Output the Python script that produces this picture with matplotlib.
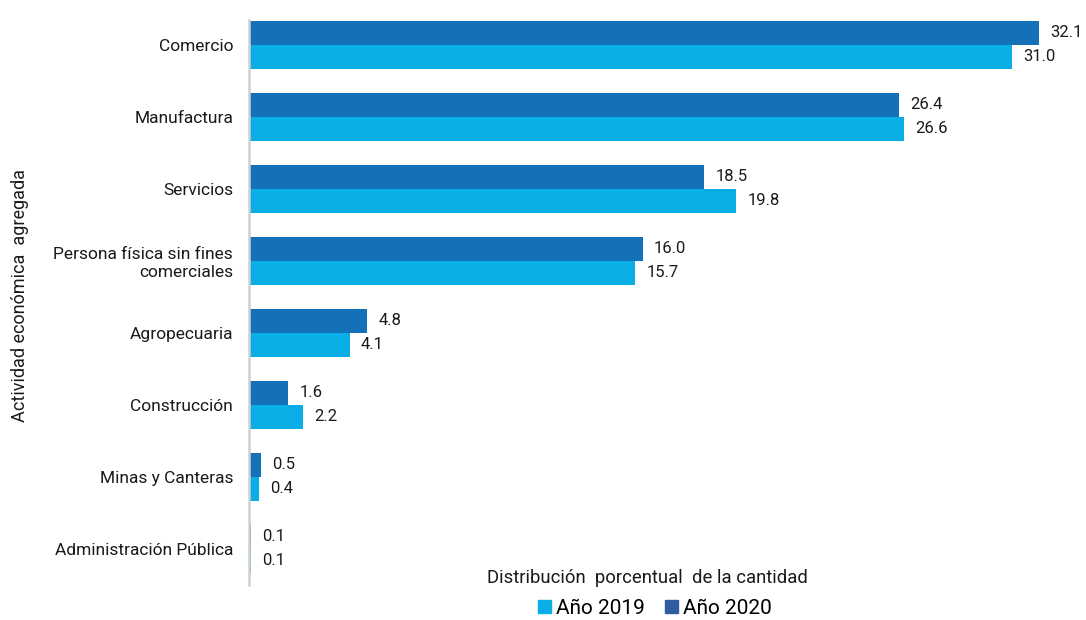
import numpy as np
import matplotlib
matplotlib.use("Agg")
import matplotlib.pyplot as plt
from matplotlib.patches import Patch

plt.rcParams['font.family'] = ['Roboto', 'DejaVu Sans']

# categories, top to bottom
categorias = ["Comercio", "Manufactura", "Servicios",
              "Persona física sin fines\ncomerciales", "Agropecuaria",
              "Construcción", "Minas y Canteras", "Administración Pública"]
valores_2020 = [32.1, 26.4, 18.5, 16.0, 4.8, 1.6, 0.5, 0.1]
valores_2019 = [31.0, 26.6, 19.8, 15.7, 4.1, 2.2, 0.4, 0.1]

color_2019 = "#09AEE6"
color_2020 = "#1471B8"
color_leyenda_2020 = "#2E5C9E"

fig = plt.figure(figsize=(10.86, 6.2), dpi=100)
ax = fig.add_axes([249 / 1086, 1 - 585 / 620, (1086 - 249) / 1086, (585 - 20) / 620])

y = np.arange(len(categorias))
h = 1 / 3

bars20 = ax.barh(y - h / 2, valores_2020, height=h, color=color_2020)
bars19 = ax.barh(y + h / 2, valores_2019, height=h, color=color_2019)

for bars, vals in [(bars20, valores_2020), (bars19, valores_2019)]:
    for b, v in zip(bars, vals):
        ax.annotate("%.1f" % v, (b.get_width(), b.get_y() + b.get_height() / 2),
                    xytext=(8, 0), textcoords="offset points",
                    ha="left", va="center", fontsize=12, color="#1a1a1a")

ax.set_xlim(0, 34)
ax.set_ylim(7.5, -0.347)
ax.set_yticks(y)
ax.set_yticklabels(categorias, fontsize=12.5, color="#1a1a1a", ha="right")
ax.tick_params(axis="y", length=0, pad=11.5)
ax.set_xticks([])

for s in ["top", "right", "bottom"]:
    ax.spines[s].set_visible(False)
ax.spines["left"].set_color("#D0D0D0")
ax.spines["left"].set_linewidth(1.8)

fig.text(20 / 1086, 1 - 296 / 620, "Actividad económica  agregada", rotation=90,
         ha="center", va="center", fontsize=13, color="#1a1a1a")
fig.text(647 / 1086, 1 - 578 / 620, "Distribución  porcentual  de la cantidad",
         ha="center", va="center", fontsize=13.3, color="#1a1a1a")

handles = [Patch(color=color_2019, label="Año 2019"),
           Patch(color=color_leyenda_2020, label="Año 2020")]
fig.legend(handles=handles, loc="center", bbox_to_anchor=(655 / 1086, 1 - 608 / 620),
           ncol=2, frameon=False, fontsize=15, handlelength=0.6, handleheight=0.6,
           handletextpad=0.25, columnspacing=1.0)

fig.savefig("out.png", dpi=100)
